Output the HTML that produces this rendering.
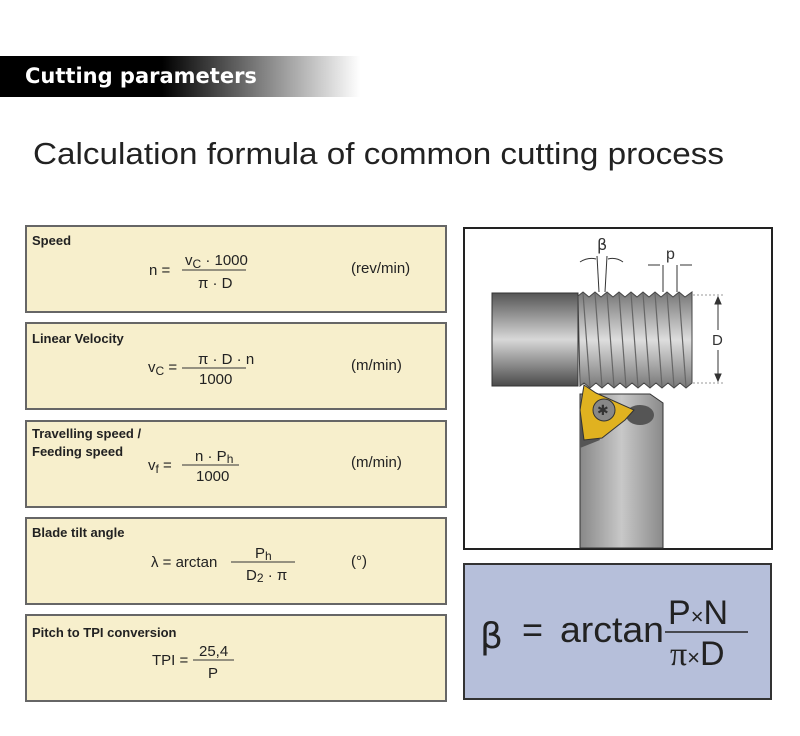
<!DOCTYPE html>
<html><head><meta charset="utf-8"><style>
html,body{margin:0;padding:0;background:#fff;}
svg{display:block}
.lb{font:bold 13px "Liberation Sans",sans-serif;fill:#222}
.f{font:15px "Liberation Sans Narrow","Liberation Sans",sans-serif;fill:#222}
</style></head><body>
<svg width="800" height="736" viewBox="0 0 800 736" xmlns="http://www.w3.org/2000/svg">
<defs>
<linearGradient id="hb" x1="0" x2="1"><stop offset="0" stop-color="#000"/><stop offset="0.45" stop-color="#000"/><stop offset="1" stop-color="#fff"/></linearGradient>
<linearGradient id="cyl" x1="0" y1="0" x2="0" y2="1"><stop offset="0" stop-color="#555"/><stop offset="0.5" stop-color="#d8d8d8"/><stop offset="1" stop-color="#4a4a4a"/></linearGradient>
<linearGradient id="thr" x1="0" y1="0" x2="0" y2="1"><stop offset="0" stop-color="#777"/><stop offset="0.5" stop-color="#ddd"/><stop offset="1" stop-color="#777"/></linearGradient>
<linearGradient id="hold" x1="0" x2="1"><stop offset="0" stop-color="#888"/><stop offset="0.5" stop-color="#c8c8c8"/><stop offset="1" stop-color="#8a8a8a"/></linearGradient>
</defs>
<rect x="0" y="56" width="360" height="41" fill="url(#hb)"/>
<text x="25" y="83" style="font:bold 21px 'DejaVu Sans','Liberation Sans',sans-serif" fill="#fff">Cutting parameters</text>
<text x="33" y="164" textLength="691" lengthAdjust="spacingAndGlyphs" style="font:31px 'Liberation Sans',sans-serif" fill="#222">Calculation formula of common cutting process</text>

<g fill="#f7efcc" stroke="#666" stroke-width="2">
<rect x="26" y="226" width="420" height="86"/>
<rect x="26" y="323" width="420" height="86"/>
<rect x="26" y="421" width="420" height="86"/>
<rect x="26" y="518" width="420" height="86"/>
<rect x="26" y="615" width="420" height="86"/>
</g>
<g stroke="#333" stroke-width="1">
<line x1="182" y1="270" x2="246" y2="270"/>
<line x1="182" y1="368" x2="246" y2="368"/>
<line x1="182" y1="465" x2="239" y2="465"/>
<line x1="231" y1="562" x2="295" y2="562"/>
<line x1="193" y1="660" x2="234" y2="660"/>
</g>
<text class="lb" x="32" y="245">Speed</text>
<text class="f" x="149" y="275">n  =</text>
<text class="f" x="185" y="265">v<tspan font-size="12" dy="3">C</tspan><tspan dy="-3"> · 1000</tspan></text>
<text class="f" x="198" y="288">π · D</text>
<text class="f" x="351" y="273">(rev/min)</text>

<text class="lb" x="32" y="343">Linear Velocity</text>
<text class="f" x="148" y="372">v<tspan font-size="12" dy="3">C</tspan><tspan dy="-3"> =</tspan></text>
<text class="f" x="198" y="364">π · D · n</text>
<text class="f" x="199" y="384">1000</text>
<text class="f" x="351" y="370">(m/min)</text>

<text class="lb" x="32" y="438">Travelling speed /</text>
<text class="lb" x="32" y="456">Feeding speed</text>
<text class="f" x="148" y="470">v<tspan font-size="12" dy="3">f</tspan><tspan dy="-3"> =</tspan></text>
<text class="f" x="195" y="461">n · P<tspan font-size="12" dy="2">h</tspan></text>
<text class="f" x="196" y="481">1000</text>
<text class="f" x="351" y="467">(m/min)</text>

<text class="lb" x="32" y="537">Blade tilt angle</text>
<text class="f" x="151" y="567">λ = arctan</text>
<text class="f" x="255" y="558">P<tspan font-size="12" dy="2">h</tspan></text>
<text class="f" x="246" y="580">D<tspan font-size="12" dy="2">2</tspan><tspan dy="-2"> · π</tspan></text>
<text class="f" x="351" y="566">(°)</text>

<text class="lb" x="32" y="637">Pitch to TPI conversion</text>
<text class="f" x="152" y="665">TPI =</text>
<text class="f" x="199" y="656">25,4</text>
<text class="f" x="208" y="678">P</text>

<!-- drawing -->
<rect x="464" y="228" width="308" height="321" fill="#fff" stroke="#222" stroke-width="2"/>
<polygon points="580,394 650,394 663,403 663,548 580,548" fill="url(#hold)" stroke="#333"/>
<ellipse cx="640" cy="415" rx="14" ry="10" fill="#555"/>
<polygon points="580,400 600,440 580,448" fill="#555"/>
<rect x="492" y="293" width="86" height="93" fill="url(#cyl)" stroke="#333"/>
<path d="M578,296 L583,292 L589,297 L595,292 L601,297 L607,292 L613,297 L619,292 L625,297 L631,292 L637,297 L643,292 L649,297 L655,292 L661,297 L667,292 L673,297 L679,292 L685,297 L692,292 L692,383 L686,388 L680,383 L674,388 L668,383 L662,388 L656,383 L650,388 L644,383 L638,388 L632,383 L626,388 L620,383 L614,388 L608,383 L602,388 L596,383 L590,388 L584,383 L580,386 Z" fill="url(#thr)" stroke="#444"/>
<g stroke="#666" stroke-width="1.2">
<line x1="583" y1="293" x2="590" y2="387"/><line x1="595" y1="293" x2="602" y2="387"/><line x1="607" y1="293" x2="614" y2="387"/><line x1="619" y1="293" x2="626" y2="387"/><line x1="631" y1="293" x2="638" y2="387"/><line x1="643" y1="293" x2="650" y2="387"/><line x1="655" y1="293" x2="662" y2="387"/><line x1="667" y1="293" x2="674" y2="387"/><line x1="679" y1="293" x2="686" y2="387"/>
</g>
<polygon points="584,385 596,393 634,410 625,420 602,438 584,440 580,410" fill="#e0b220" stroke="#333"/>
<circle cx="604" cy="410" r="11" fill="#888" stroke="#333"/>
<text x="597" y="415" style="font:14px 'DejaVu Sans',sans-serif" fill="#333">✱</text>
<g stroke="#999" stroke-dasharray="2,2"><line x1="693" y1="295" x2="724" y2="295"/><line x1="693" y1="383" x2="724" y2="383"/></g>
<g stroke="#333"><line x1="718" y1="297" x2="718" y2="330"/><line x1="718" y1="350" x2="718" y2="381"/>
<polygon points="718,297 715,304 721,304" fill="#333"/><polygon points="718,381 715,374 721,374" fill="#333"/>
<line x1="599" y1="292" x2="597" y2="256"/><line x1="605" y1="292" x2="607" y2="256"/>
<line x1="663" y1="292" x2="663" y2="265"/><line x1="677" y1="292" x2="677" y2="265"/>
<line x1="648" y1="265" x2="660" y2="265"/><line x1="680" y1="265" x2="692" y2="265"/>
<path d="M580,262 Q588,257 596,259" fill="none"/><path d="M608,259 Q616,257 623,262" fill="none"/></g>
<text x="712" y="345" style="font:15px 'Liberation Sans',sans-serif" fill="#333">D</text>
<text x="597" y="250" style="font:16px 'DejaVu Sans',sans-serif" fill="#333">β</text>
<text x="666" y="259" style="font:16px 'Liberation Sans',sans-serif" fill="#333">p</text>

<rect x="464" y="564" width="307" height="135" fill="#b6bfda" stroke="#333" stroke-width="2"/>
<text x="480" y="648" style="font:36px 'DejaVu Sans',sans-serif" fill="#222">β</text>
<text x="522" y="642" style="font:36px 'Liberation Sans',sans-serif" fill="#222">=</text>
<text x="560" y="642" textLength="104" lengthAdjust="spacingAndGlyphs" style="font:36px 'Liberation Sans',sans-serif" fill="#222">arctan</text>
<line x1="665" y1="632" x2="748" y2="632" stroke="#222" stroke-width="1.5"/>
<text x="668" y="624" style="font:34px 'Liberation Sans',sans-serif" fill="#222">P<tspan font-size="22">×</tspan>N</text>
<text x="670" y="665" style="font:34px 'Liberation Serif',serif" fill="#222">π<tspan font-size="22" style="font-family:'Liberation Sans'">×</tspan><tspan style="font-family:'Liberation Sans'">D</tspan></text>
</svg>
</body></html>
